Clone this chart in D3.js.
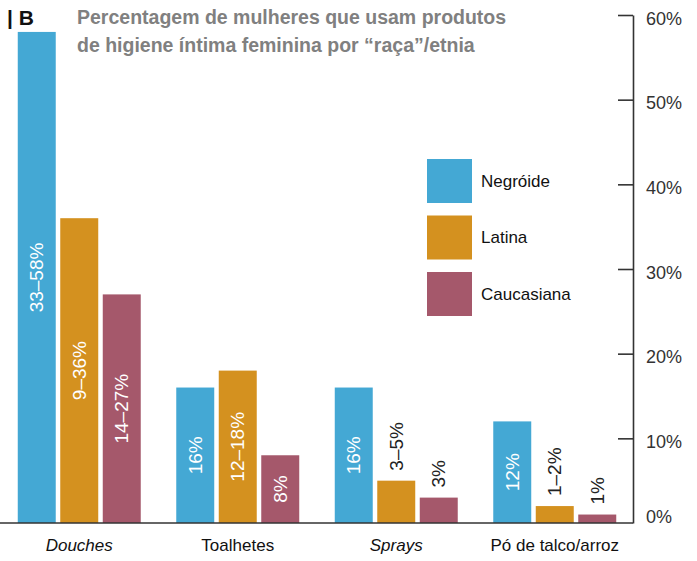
<!DOCTYPE html>
<html><head><meta charset="utf-8">
<script src="https://cdn.jsdelivr.net/npm/d3@7"></script>
<style>body{margin:0;background:#fff}svg{display:block}text{font-family:"Liberation Sans",Arial,sans-serif}</style>
</head><body>
<svg id="c" width="697" height="561"></svg>
<script>
const categories = ["Douches", "Toalhetes", "Sprays", "Pó de talco/arroz"];
const italicCats = ["Douches", "Sprays"];
const series = ["Negróide", "Latina", "Caucasiana"];
const colors = ["#44a8d4", "#d4911f", "#a5586b"];
const negroide = [58, 16, 16, 12];
const latina = [36, 18, 5, 2];
const caucasiana = [27, 8, 3, 1];
const negroideLabels = ["33–58%", "16%", "16%", "12%"];
const latinaLabels = ["9–36%", "12–18%", "3–5%", "1–2%"];
const caucasianaLabels = ["14–27%", "8%", "3%", "1%"];
const yTicks = [0, 10, 20, 30, 40, 50, 60];

const values = [negroide, latina, caucasiana];
const labels = [negroideLabels, latinaLabels, caucasianaLabels];

const svg = d3.select("#c");
const y = d3.scaleLinear().domain([0, 60]).range([523, 15]);
const x0 = d3.scaleBand().domain(categories).range([0, 634]).paddingInner(0.224).paddingOuter(0.112);
const x1 = d3.scaleBand().domain(series).range([0, x0.bandwidth()]).paddingInner(0.106);

const data = [];
categories.forEach((c, i) => series.forEach((s, j) => data.push({c, s, j, v: values[j][i], l: labels[j][i]})));

const bars = svg.append("g");
bars.selectAll("rect").data(data).join("rect")
  .attr("x", d => x0(d.c) + x1(d.s))
  .attr("width", x1.bandwidth())
  .attr("y", d => y(d.v))
  .attr("height", d => y(0) - y(d.v))
  .attr("fill", d => colors[d.j]);

// labels
bars.selectAll("text").data(data).join("text")
  .attr("transform", d => {
    const cx = x0(d.c) + x1(d.s) + x1.bandwidth() / 2;
    const inside = d.v >= 8;
    const cy = inside ? (y(d.v) + y(0)) / 2 : y(d.v) - 10;
    return `translate(${cx},${cy}) rotate(-90)`;
  })
  .attr("text-anchor", d => d.v >= 8 ? "middle" : "start")
  .attr("dy", "0.35em")
  .attr("font-size", 19)
  .attr("fill", d => d.v >= 8 ? "#fff" : "#222")
  .text(d => d.l);

// baseline
svg.append("line").attr("x1", 0).attr("x2", 633).attr("y1", y(0)).attr("y2", y(0))
  .attr("stroke", "#333").attr("stroke-width", 1.6);

// right axis
const ax = svg.append("g").attr("transform", "translate(633,0)")
  .call(d3.axisRight(y).tickValues(yTicks).tickFormat(d => d + "%").tickSize(0).tickPadding(13));
ax.select(".domain").attr("stroke", "#333").attr("stroke-width", 1.6);
ax.selectAll(".tick text").attr("font-size", 18).attr("fill", "#333").attr("font-family", "Liberation Sans, Arial, sans-serif")
  .attr("dy", d => d === 0 ? "-0.05em" : "0.5em");
ax.selectAll(".tick").filter(d => d !== 0).append("line")
  .attr("x1", -15).attr("x2", 0).attr("stroke", "#333").attr("stroke-width", 1.6);

// category labels
svg.append("g").selectAll("text").data(categories).join("text")
  .attr("x", d => x0(d) + x0.bandwidth() / 2)
  .attr("y", 551)
  .attr("text-anchor", "middle")
  .attr("font-size", 17)
  .attr("fill", "#111")
  .attr("font-style", d => italicCats.includes(d) ? "italic" : "normal")
  .text(d => d);

// legend
const lg = svg.append("g").selectAll("g").data(series).join("g")
  .attr("transform", (d, i) => `translate(427,${159 + i * 56.5})`);
lg.append("rect").attr("width", 45).attr("height", 44).attr("fill", (d, i) => colors[i]);
lg.append("text").attr("x", 54).attr("y", 22).attr("dy", "0.35em").attr("font-size", 17).attr("fill", "#111").text(d => d);

// title
svg.append("text").attr("x", 7).attr("y", 25).attr("font-size", 21).attr("font-weight", "bold").attr("fill", "#111").text("| B");
const t = svg.append("text").attr("font-size", 19.5).attr("font-weight", "bold").attr("fill", "#808080");
t.append("tspan").attr("x", 77).attr("y", 24).text("Percentagem de mulheres que usam produtos");
t.append("tspan").attr("x", 77).attr("y", 52).text("de higiene íntima feminina por “raça”/etnia");
</script>
</body></html>
